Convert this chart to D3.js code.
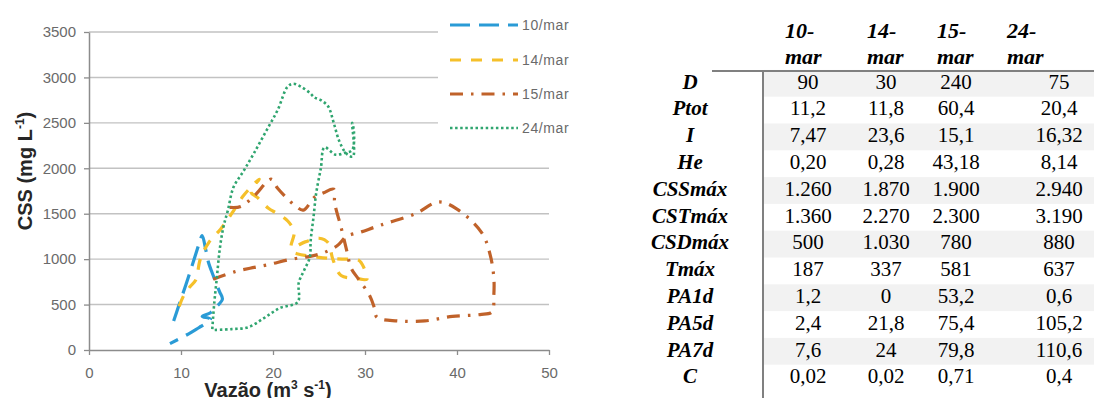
<!DOCTYPE html>
<html>
<head>
<meta charset="utf-8">
<script src="https://cdn.jsdelivr.net/npm/d3@7"></script>
<style>
  html, body { margin: 0; padding: 0; background: #fff; }
  svg { display: block; }
</style>
</head>
<body>
<svg id="fig" width="1094" height="398"></svg>
<script>
// ---- chart data: discharge (m3/s) vs suspended sediment concentration (mg/L) ----
const categories = ["10/mar", "14/mar", "15/mar", "24/mar"];

const vazao10 = [9.2, 9.7, 10.3, 10.8, 11.4, 12.0, 12.3, 12.7, 13.0, 13.5, 13.8, 14.2, 14.5, 13.8, 13.2, 12.3, 13.2, 12.5, 12.0, 10.6, 8.8];
const css10   = [320, 470, 650, 800, 990, 1180, 1260, 1100, 960, 820, 740, 640, 560, 470, 410, 370, 340, 280, 250, 165, 70];

const vazao14 = [9.8, 10.3, 11.0, 11.6, 12.1, 13.0, 14.3, 15.5, 16.8, 18.5, 17.6, 18.3, 19.5, 20.5, 21.6, 22.3, 22.0, 23.5, 25.0, 26.0, 26.5, 27.4, 29.0, 30.2, 29.9, 29.3, 27.5, 25.0, 22.6, 21.5];
const css14   = [480, 600, 700, 770, 1000, 1180, 1330, 1500, 1700, 1880, 1740, 1680, 1560, 1500, 1420, 1300, 1130, 1190, 1230, 1180, 1000, 820, 790, 780, 900, 990, 1000, 1020, 1060, 1100];

const vazao15 = [13.5, 15.8, 17.5, 19.5, 22.0, 24.0, 25.5, 27.0, 28.0, 29.6, 31.0, 32.5, 35.5, 38.0, 40.0, 42.7, 43.6, 44.0, 44.0, 43.8, 42.5, 39.5, 36.5, 33.5, 31.3, 31.0, 30.5, 29.3, 28.5, 28.0, 27.4, 26.7, 26.6, 25.5, 24.5, 23.3, 22.5, 20.5, 19.8, 18.0, 16.5, 15.3];
const css15   = [780, 860, 900, 940, 1000, 1030, 1070, 1150, 1250, 1300, 1350, 1400, 1500, 1630, 1550, 1290, 1050, 800, 600, 420, 390, 370, 320, 320, 360, 470, 600, 780, 900, 1100, 1350, 1620, 1770, 1730, 1680, 1540, 1580, 1780, 1880, 1700, 1580, 1570];

const vazao24 = [13.4, 13.6, 13.9, 14.2, 14.6, 15.1, 15.7, 16.8, 17.9, 19.2, 20.5, 21.6, 22.2, 23.0, 24.0, 24.5, 25.2, 26.0, 26.6, 27.2, 28.0, 28.7, 28.6, 28.8, 28.6, 27.8, 26.8, 25.6, 25.2, 24.7, 24.4, 24.1, 24.0, 23.4, 22.8, 22.7, 20.7, 19.0, 17.3, 15.5, 13.4];
const css24   = [230, 500, 800, 1100, 1350, 1540, 1790, 1970, 2160, 2400, 2640, 2900, 2930, 2900, 2830, 2780, 2750, 2680, 2500, 2300, 2160, 2130, 2500, 2400, 2200, 2170, 2150, 2230, 2000, 1730, 1460, 1210, 1020, 880, 740, 530, 460, 350, 250, 230, 220];

const xTicks = [0, 10, 20, 30, 40, 50];
const yTicks = [0, 500, 1000, 1500, 2000, 2500, 3000, 3500];

// ---- table data ----
const tableCols = [["10-", "mar"], ["14-", "mar"], ["15-", "mar"], ["24-", "mar"]];
const tableRows = ["D", "Ptot", "I", "He", "CSSmáx", "CSTmáx", "CSDmáx", "Tmáx", "PA1d", "PA5d", "PA7d", "C"];
const col10 = ["90", "11,2", "7,47", "0,20", "1.260", "1.360", "500", "187", "1,2", "2,4", "7,6", "0,02"];
const col14 = ["30", "11,8", "23,6", "0,28", "1.870", "2.270", "1.030", "337", "0", "21,8", "24", "0,02"];
const col15 = ["240", "60,4", "15,1", "43,18", "1.900", "2.300", "780", "581", "53,2", "75,4", "79,8", "0,71"];
const col24 = ["75", "20,4", "16,32", "8,14", "2.940", "3.190", "880", "637", "0,6", "105,2", "110,6", "0,4"];

// ---- chart ----
const svg = d3.select("#fig");
const x = d3.scaleLinear().domain([0, 50]).range([89, 549]);
const y = d3.scaleLinear().domain([0, 3500]).range([350, 32]);

const tickFont = "'Liberation Sans', Arial, sans-serif";

// gridlines
svg.append("g").selectAll("line").data(yTicks.filter(d => d > 0)).join("line")
  .attr("x1", x(0)).attr("x2", x(50))
  .attr("y1", d => y(d)).attr("y2", d => y(d))
  .attr("stroke", "#c2c2c2").attr("stroke-width", 1.4);

// legend background covers the upper right corner of the grid
svg.append("rect").attr("x", 438).attr("y", 4).attr("width", 150).attr("height", 140).attr("fill", "#fff");

// axes
const yAxis = svg.append("g").attr("transform", `translate(${x(0)},0)`)
  .call(d3.axisLeft(y).tickValues(yTicks).tickFormat(d3.format("d"))
    .tickSize(5).tickSizeOuter(0).tickPadding(8));
const xAxis = svg.append("g").attr("transform", `translate(0,${y(0)})`)
  .call(d3.axisBottom(x).tickValues(xTicks).tickFormat(d3.format("d"))
    .tickSize(5).tickSizeOuter(0).tickPadding(12));
[yAxis, xAxis].forEach(a => {
  a.select(".domain").attr("stroke", "#8c8c8c").attr("stroke-width", 1.5);
  a.selectAll(".tick line").attr("stroke", "#8c8c8c").attr("stroke-width", 1.3);
  a.selectAll(".tick text").attr("fill", "#6a6a6a").attr("font-family", tickFont).attr("font-size", 15);
});

// axis titles
const yTitle = svg.append("text")
  .attr("transform", "translate(32,171) rotate(-90)")
  .attr("text-anchor", "middle")
  .attr("font-family", tickFont).attr("font-weight", "bold").attr("font-size", 20).attr("fill", "#262626");
yTitle.append("tspan").text("CSS (mg L");
yTitle.append("tspan").attr("font-size", 12).attr("dy", -8).text("-1");
yTitle.append("tspan").attr("dy", 8).text(")");

const xTitle = svg.append("text")
  .attr("x", 268).attr("y", 397)
  .attr("text-anchor", "middle")
  .attr("font-family", tickFont).attr("font-weight", "bold").attr("font-size", 20).attr("fill", "#262626");
xTitle.append("tspan").text("Vazão (m");
xTitle.append("tspan").attr("font-size", 12).attr("dy", -8).text("3");
xTitle.append("tspan").attr("dy", 8).text(" s");
xTitle.append("tspan").attr("font-size", 12).attr("dy", -8).text("-1");
xTitle.append("tspan").attr("dy", 8).text(")");

// series
const seriesStyle = [
  { color: "#2a9bd6", dash: "20,9",        width: 3.2 },
  { color: "#f5c02a", dash: "11,10",       width: 3.2 },
  { color: "#c0622a", dash: "13,8,2.5,8",  width: 3.2 },
  { color: "#2fa56f", dash: "2.5,2.6",     width: 2.6 }
];
const seriesData = [
  d3.zip(vazao10, css10),
  d3.zip(vazao14, css14),
  d3.zip(vazao15, css15),
  d3.zip(vazao24, css24)
];
const line = d3.line().x(d => x(d[0])).y(d => y(d[1])).curve(d3.curveCatmullRom.alpha(0.5));

svg.append("g").selectAll("path").data(seriesData).join("path")
  .attr("d", line)
  .attr("fill", "none")
  .attr("stroke", (d, i) => seriesStyle[i].color)
  .attr("stroke-width", (d, i) => seriesStyle[i].width)
  .attr("stroke-dasharray", (d, i) => seriesStyle[i].dash)
  .attr("stroke-linejoin", "round");

// legend
const legendY = [25, 60, 94, 128];
const lg = svg.append("g").selectAll("g").data(categories).join("g")
  .attr("transform", (d, i) => `translate(0,${legendY[i]})`);
lg.append("line").attr("x1", 450).attr("x2", 518).attr("y1", 0).attr("y2", 0)
  .attr("stroke", (d, i) => seriesStyle[i].color)
  .attr("stroke-width", (d, i) => seriesStyle[i].width)
  .attr("stroke-dasharray", (d, i) => seriesStyle[i].dash);
lg.append("text").attr("x", 522).attr("y", 0).attr("dy", "0.35em")
  .attr("font-family", tickFont).attr("font-size", 14).attr("letter-spacing", 0.6)
  .attr("fill", "#6a6a6a").text(d => d);

// ---- table ----
const serif = "'Liberation Serif', 'Times New Roman', serif";
const colLeft = [785, 867, 937, 1007];
const colCenter = [808, 886, 956, 1059];
const labelCenter = 690;
const firstBase = 88.5, pitch = 26.8;
const rowBase = tableRows.map((d, i) => firstBase + i * pitch);
const columns = [col10, col14, col15, col24];

const tbl = svg.append("g");
// shaded bands on alternate rows
tbl.selectAll("rect.band").data(tableRows.filter((d, i) => i % 2 === 0)).join("rect")
  .attr("class", "band")
  .attr("x", 764).attr("width", 1094 - 764)
  .attr("y", (d, i) => rowBase[i * 2] - 18.6)
  .attr("height", pitch)
  .attr("fill", "#f2f2f2");

// rules
tbl.append("line").attr("x1", 712).attr("x2", 1094).attr("y1", 71).attr("y2", 71)
  .attr("stroke", "#808080").attr("stroke-width", 2);
tbl.append("line").attr("x1", 763).attr("x2", 763).attr("y1", 71).attr("y2", 398)
  .attr("stroke", "#808080").attr("stroke-width", 2);

// column headers on two lines
tableCols.forEach((c, j) => {
  c.forEach((t, k) => {
    tbl.append("text").attr("x", colLeft[j]).attr("y", 38 + k * 26)
      .attr("font-family", serif).attr("font-size", 22).attr("font-weight", "bold").attr("font-style", "italic")
      .attr("fill", "#000").text(t);
  });
});

// row labels
tbl.selectAll("text.rl").data(tableRows).join("text")
  .attr("class", "rl").attr("x", labelCenter).attr("y", (d, i) => rowBase[i])
  .attr("text-anchor", "middle")
  .attr("font-family", serif).attr("font-size", 21).attr("font-weight", "bold").attr("font-style", "italic")
  .attr("fill", "#000").text(d => d);

// values
columns.forEach((col, j) => {
  tbl.selectAll(`text.v${j}`).data(col).join("text")
    .attr("class", `v${j}`).attr("x", colCenter[j]).attr("y", (d, i) => rowBase[i])
    .attr("text-anchor", "middle")
    .attr("font-family", serif).attr("font-size", 21)
    .attr("fill", "#000").text(d => d);
});
</script>
</body>
</html>
